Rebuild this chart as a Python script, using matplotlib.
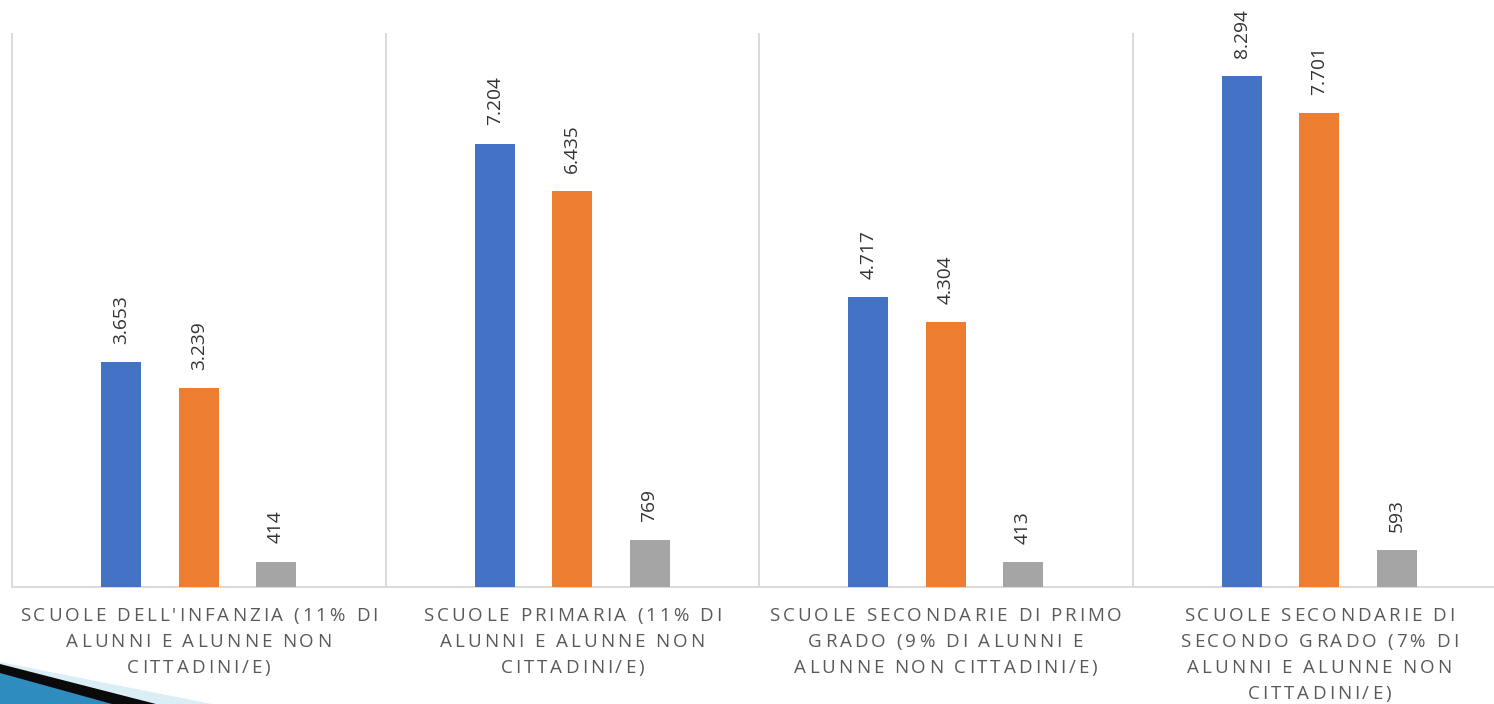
import matplotlib
matplotlib.use("Agg")
import matplotlib.pyplot as plt
from matplotlib.patches import Polygon
from matplotlib.font_manager import FontProperties, findfont, get_font
import numpy as np

# --- data -------------------------------------------------------------
categories = [
    "SCUOLE DELL'INFANZIA (11% DI\nALUNNI E ALUNNE NON\nCITTADINI/E)",
    "SCUOLE PRIMARIA (11% DI\nALUNNI E ALUNNE NON\nCITTADINI/E)",
    "SCUOLE SECONDARIE DI PRIMO\nGRADO (9% DI ALUNNI E\nALUNNE NON CITTADINI/E)",
    "SCUOLE SECONDARIE DI\nSECONDO GRADO (7% DI\nALUNNI E ALUNNE NON\nCITTADINI/E)",
]
totale = [3653, 7204, 4717, 8294]
cittadini = [3239, 6435, 4304, 7701]
non_cittadini = [414, 769, 413, 593]

series = [totale, cittadini, non_cittadini]
colors = ["#4472C4", "#ED7D31", "#A5A5A5"]

# --- figure -----------------------------------------------------------
W, H, DPI = 1494, 704, 100
fig = plt.figure(figsize=(W / DPI, H / DPI), dpi=DPI)
fig.patch.set_facecolor("white")

ax = fig.add_axes([12 / W, (H - 587) / H, 1494 / W, 554 / H])
ax.set_xlim(-0.5, len(categories) - 0.5)
ax.set_ylim(0, 9000)
ax.axis("off")

x = np.arange(len(categories))
offsets = [-0.207, 0.0, 0.207]
bar_w = 0.107

grid_col = "#D9D9D9"
ax.vlines(np.arange(len(categories) + 1) - 0.5, 0, 9000, color=grid_col,
          lw=1.4, clip_on=False, zorder=1)
ax.axhline(0, color=grid_col, lw=1.4, zorder=1, clip_on=False)

val_font = FontProperties(family="Open Sans", size=13.8)

def fmt(v):
    return f"{v:,}".replace(",", ".")

for vals, off, col in zip(series, offsets, colors):
    bars = ax.bar(x + off, vals, width=bar_w, color=col, zorder=2)
    for b, v in zip(bars, vals):
        ax.annotate(fmt(v), (b.get_x() + b.get_width() / 2, v),
                    xytext=(0, 13), textcoords="offset points",
                    rotation=90, ha="center", va="bottom",
                    color="#333333", fontproperties=val_font)

# --- letter-spaced category labels --------------------------------------
lab_prop = FontProperties(family="Open Sans", size=13.5)
ft = get_font(findfont(lab_prop))
ft.set_size(lab_prop.get_size_in_points(), DPI)
tracking = 2.8  # extra pixels between characters


def advance(ch):
    g = ft.load_char(ord(ch))
    return g.linearHoriAdvance / 65536


line_baselines = [621, 647, 673, 699]
fig.canvas.draw()
for i, cat in enumerate(categories):
    cx_px = ax.transData.transform((x[i], 0))[0]
    for j, line in enumerate(cat.split("\n")):
        widths = [advance(c) for c in line]
        total = sum(widths) + tracking * (len(line) - 1)
        xp = cx_px - total / 2
        yb = line_baselines[j]
        for c, w in zip(line, widths):
            if c != " ":
                fig.text(xp / W, 1 - yb / H, c, fontproperties=lab_prop,
                         color="#595959", ha="left", va="baseline")
            xp += w + tracking

# --- corner decoration ------------------------------------------------
def fig_poly(pts, color, z):
    p = Polygon([(px / W, 1 - py / H) for px, py in pts], closed=True,
                transform=fig.transFigure, facecolor=color, edgecolor="none",
                zorder=z)
    fig.patches.append(p)

fig_poly([(0, 662), (212, 704), (0, 704)], "#DCEEF5", 5)
fig_poly([(0, 664), (156, 704), (0, 704)], "#0A0A0A", 6)
fig_poly([(0, 673), (112, 704), (0, 704)], "#2E8DBE", 7)

fig.savefig("out.png", dpi=DPI, facecolor="white")
